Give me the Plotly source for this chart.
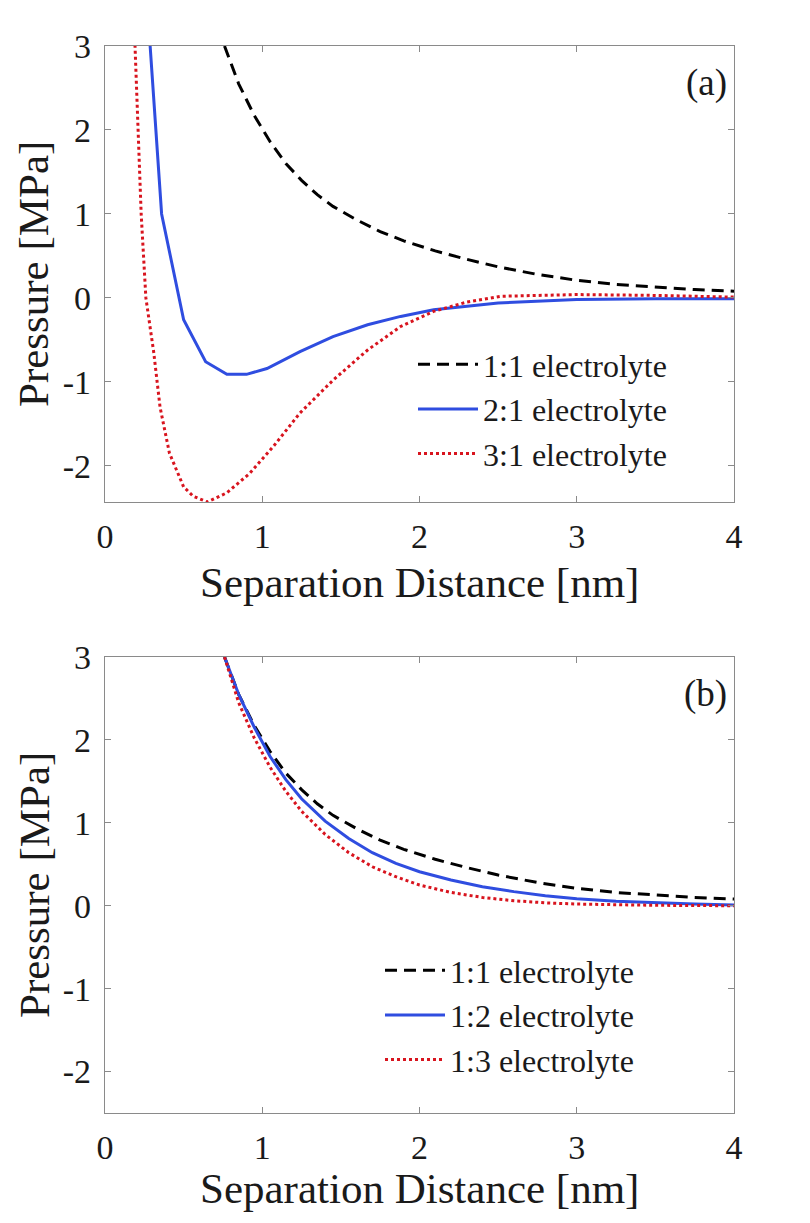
import plotly.graph_objects as go

# ---------------- data ----------------
# panel (a)
a11_x = [0.76, 0.85, 0.95, 1.05, 1.15, 1.25, 1.35, 1.45, 1.6, 1.75, 1.9, 2.1, 2.3, 2.5, 2.75, 3.0, 3.25, 3.5, 3.75, 4.0]
a11_y = [3.0, 2.55, 2.17, 1.86, 1.6, 1.4, 1.23, 1.09, 0.93, 0.79, 0.68, 0.56, 0.46, 0.37, 0.28, 0.21, 0.16, 0.13, 0.10, 0.08]

a21_x = [0.225, 0.36, 0.5, 0.64, 0.775, 0.9, 1.03, 1.24, 1.45, 1.67, 1.88, 2.09, 2.5, 3.0, 3.5, 4.0]
a21_y = [4.7, 1.0, -0.26, -0.76, -0.91, -0.91, -0.84, -0.64, -0.46, -0.32, -0.22, -0.14, -0.06, -0.02, -0.01, -0.01]

a31_x = [0.185, 0.21, 0.23, 0.26, 0.31, 0.35, 0.41, 0.5, 0.56, 0.65, 0.775, 0.92, 1.07, 1.24,
         1.45, 1.67, 1.88, 2.09, 2.3, 2.52, 3.0, 3.5, 4.0]
a31_y = [3.3, 2.0, 1.0, 0.0, -0.65, -1.3, -1.85, -2.25, -2.36, -2.43, -2.32, -2.09, -1.77, -1.37,
         -0.98, -0.62, -0.34, -0.16, -0.05, 0.02, 0.04, 0.03, 0.01]

# panel (b)
b11_x = a11_x
b11_y = a11_y

b12_x = [0.76, 0.85, 0.95, 1.05, 1.15, 1.25, 1.4, 1.55, 1.7, 1.85, 2.0, 2.2, 2.4, 2.6, 2.8, 3.0, 3.25, 3.5, 3.75, 4.0]
b12_y = [3.0, 2.55, 2.15, 1.8, 1.52, 1.29, 1.02, 0.81, 0.64, 0.51, 0.41, 0.31, 0.23, 0.17, 0.12, 0.085, 0.055, 0.035, 0.02, 0.01]

b13_x = [0.76, 0.85, 0.95, 1.05, 1.15, 1.25, 1.4, 1.55, 1.7, 1.85, 2.0, 2.2, 2.4, 2.6, 2.8, 3.0, 3.5, 4.0]
b13_y = [3.0, 2.45, 2.02, 1.67, 1.38, 1.14, 0.86, 0.64, 0.47, 0.35, 0.25, 0.16, 0.10, 0.06, 0.035, 0.02, 0.005, 0.0]

names_a = ["1:1 electrolyte", "2:1 electrolyte", "3:1 electrolyte"]
names_b = ["1:1 electrolyte", "1:2 electrolyte", "1:3 electrolyte"]

x_ticks = [0, 1, 2, 3, 4]
y_ticks = [-2, -1, 0, 1, 2, 3]
y_tick_text = ["-2", "-1", "0", "1", "2", "3"]

x_title = "Separation Distance [nm]"
y_title = "Pressure [MPa]"

# ---------------- styling ----------------
FONT = "Liberation Serif"
TXT = "#1a1a1a"
BLACK = "#000000"
BLUE = "#2f4de0"
RED = "#d8141e"
LW = 3

styles = [
    dict(color=BLACK, width=LW, dash="12px,7px"),
    dict(color=BLUE, width=LW, dash="solid"),
    dict(color=RED, width=LW, dash="3px,3px"),
]

# page body has an 8px margin: work in screen pixels and convert
W, H = 794, 1207


def px(xs):
    return (xs - 8) / W


def py(ys):
    return 1 - (ys - 8) / H


fig = go.Figure()

for (xs, ys), nm, st in zip([(a11_x, a11_y), (a21_x, a21_y), (a31_x, a31_y)], names_a, styles):
    fig.add_trace(go.Scatter(x=xs, y=ys, mode="lines", name=nm, line=st,
                             xaxis="x", yaxis="y", legend="legend"))

for (xs, ys), nm, st in zip([(b11_x, b11_y), (b12_x, b12_y), (b13_x, b13_y)], names_b, styles):
    fig.add_trace(go.Scatter(x=xs, y=ys, mode="lines", name=nm, line=st,
                             xaxis="x2", yaxis="y2", legend="legend2"))

xdom = [px(105), px(734)]
ydom_a = [py(502), py(46)]
ydom_b = [py(1113), py(657)]

axis_common = dict(
    showgrid=False, zeroline=False,
    showline=True, linecolor="#8a8a8a", linewidth=1.2, mirror="ticks",
    ticks="inside", ticklen=6, tickwidth=1, tickcolor="#8a8a8a",
    tickfont=dict(family=FONT, size=34, color=TXT),
    automargin=False,
)

TITLE_SIZE = 43
annots = []
for top, bot, lab, xt_y in [(46, 502, "(a)", 583), (657, 1113, "(b)", 1188)]:
    annots.append(dict(text=x_title, x=px(419), y=py(xt_y), xref="paper", yref="paper",
                       xanchor="center", yanchor="middle", showarrow=False,
                       font=dict(family=FONT, size=TITLE_SIZE, color=TXT)))
    annots.append(dict(text=y_title, x=px(34), y=py((top + bot) / 2), xref="paper", yref="paper",
                       xanchor="center", yanchor="middle", showarrow=False, textangle=-90,
                       font=dict(family=FONT, size=TITLE_SIZE, color=TXT)))
    annots.append(dict(text=lab, x=px(729), y=py(top + 37), xref="paper", yref="paper",
                       xanchor="right", yanchor="middle", showarrow=False,
                       font=dict(family=FONT, size=37, color=TXT)))

LEG_SIZE = 32
fig.update_layout(
    width=W, height=H,
    margin=dict(l=0, r=0, t=0, b=0),
    paper_bgcolor="white", plot_bgcolor="white",
    showlegend=True,
    xaxis=dict(domain=xdom, anchor="y", range=[0, 4], tickvals=x_ticks,
               ticklabelstandoff=4, **axis_common),
    yaxis=dict(domain=ydom_a, anchor="x", range=[-2.43, 3], tickvals=y_ticks,
               ticktext=y_tick_text, ticklabelstandoff=6, **axis_common),
    xaxis2=dict(domain=xdom, anchor="y2", range=[0, 4], tickvals=x_ticks,
                ticklabelstandoff=4, **axis_common),
    yaxis2=dict(domain=ydom_b, anchor="x2", range=[-2.5, 3], tickvals=y_ticks,
                ticktext=y_tick_text, ticklabelstandoff=6, **axis_common),
    legend=dict(x=px(413), y=py(337), xanchor="left", yanchor="top",
                bgcolor="rgba(0,0,0,0)", borderwidth=0,
                font=dict(family=FONT, size=LEG_SIZE, color=TXT), itemwidth=60,
                tracegroupgap=0),
    legend2=dict(x=px(380), y=py(943), xanchor="left", yanchor="top",
                 bgcolor="rgba(0,0,0,0)", borderwidth=0,
                 font=dict(family=FONT, size=LEG_SIZE, color=TXT), itemwidth=60,
                 tracegroupgap=0),
    annotations=annots,
)

fig.write_html("out.html")
